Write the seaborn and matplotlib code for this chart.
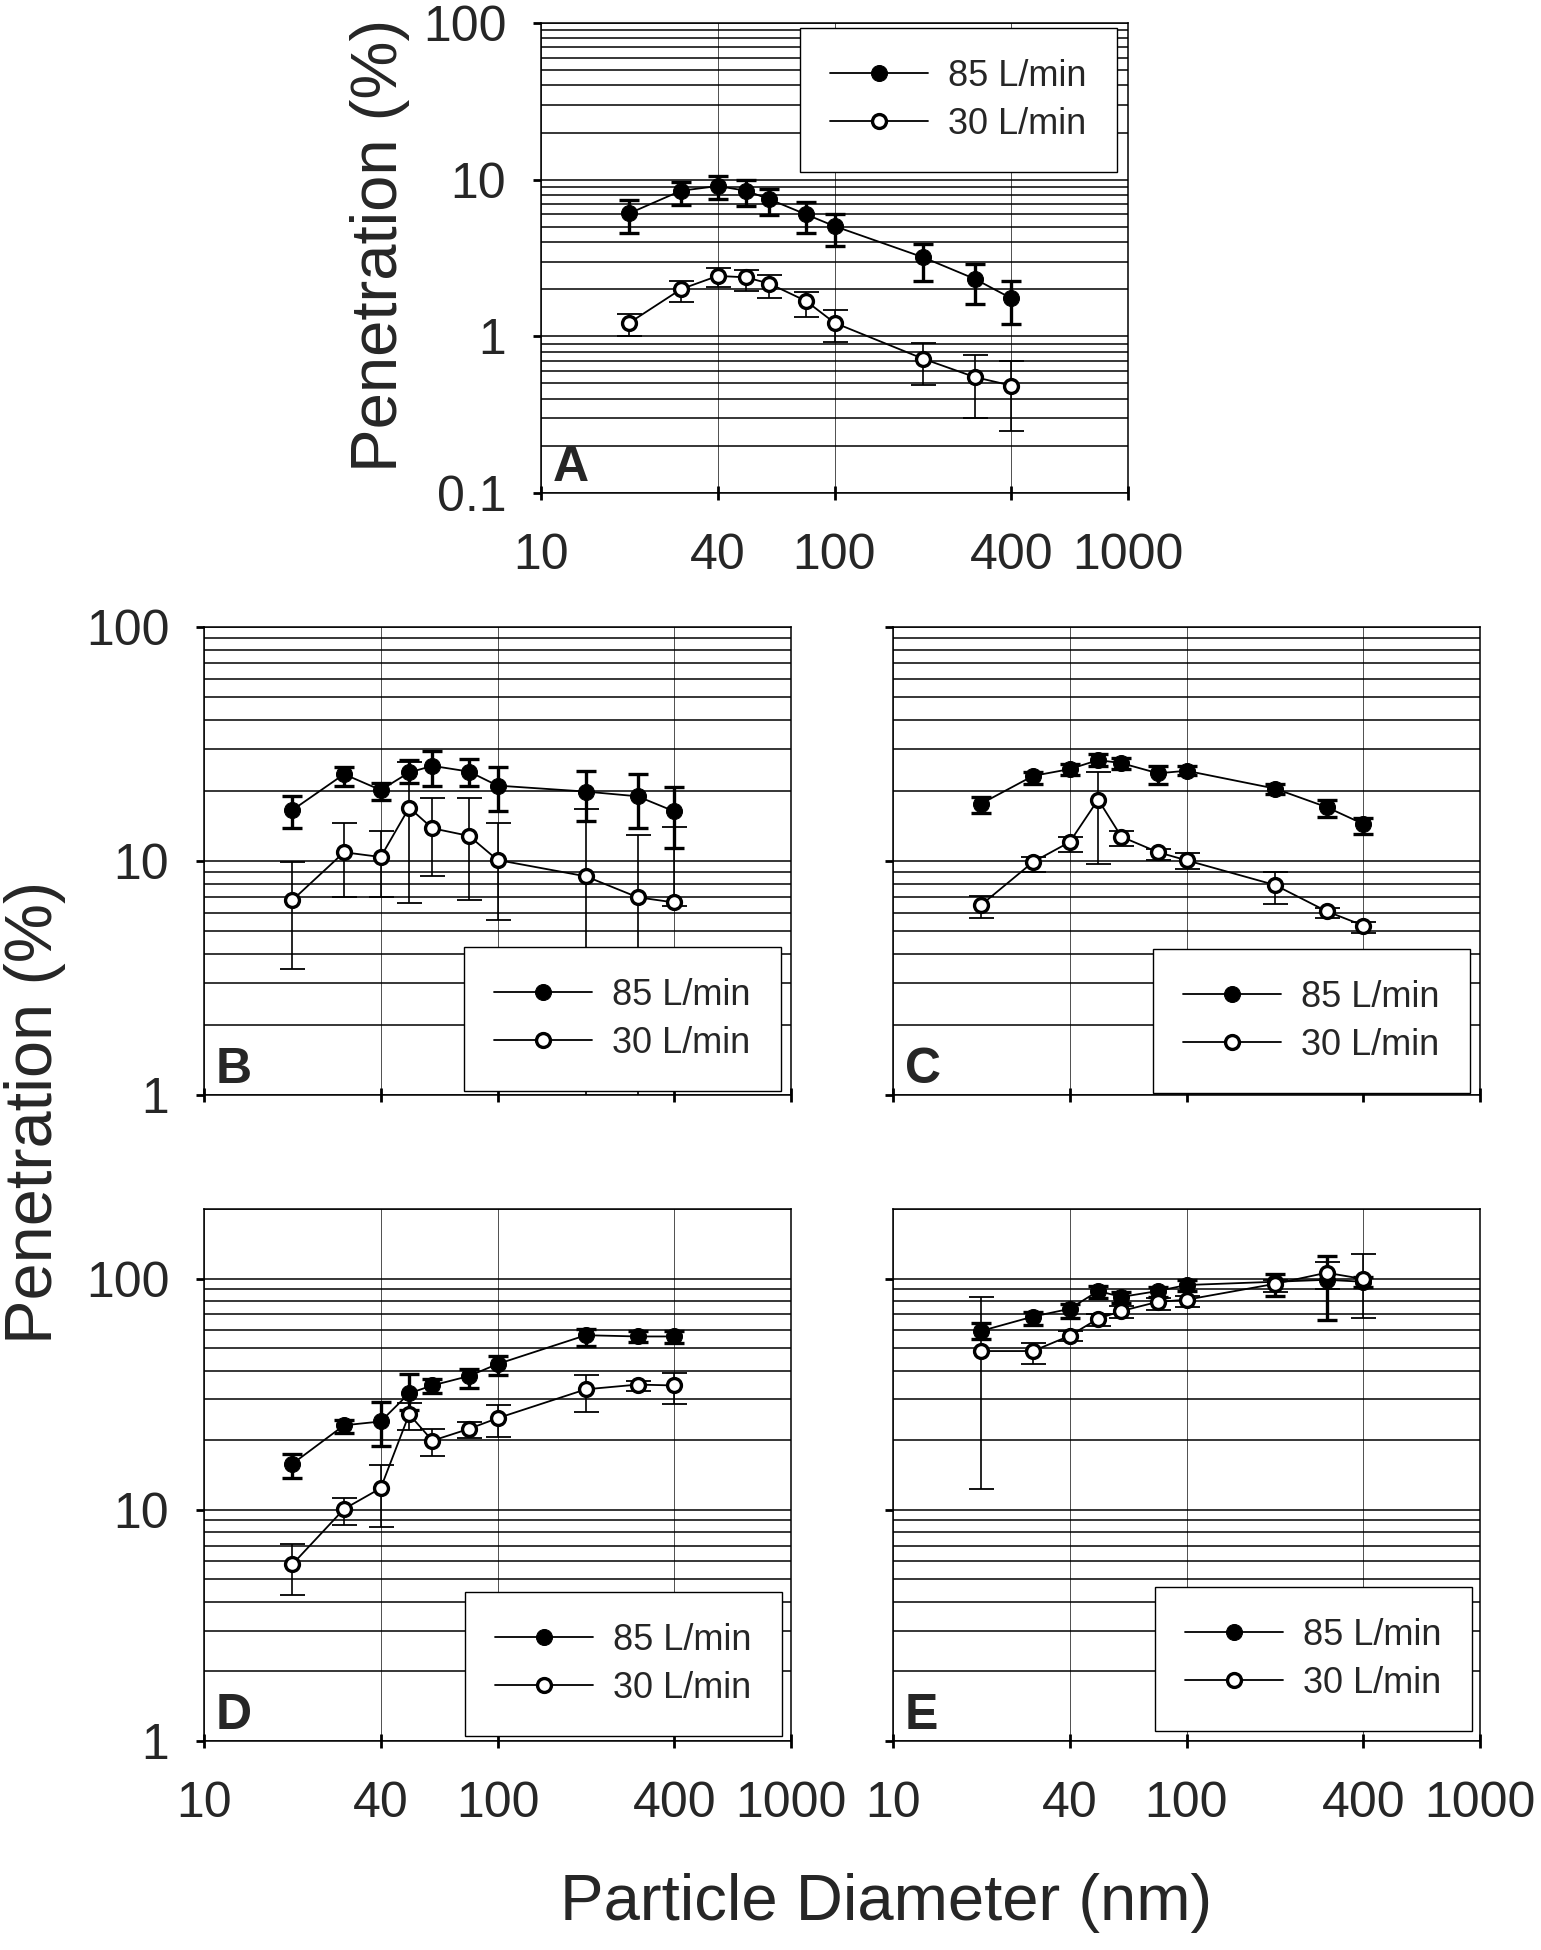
import matplotlib
matplotlib.use("Agg")
import numpy as np
import pandas as pd
import matplotlib.pyplot as plt
import seaborn as sns

# particle diameters (nm), same for every panel
diameters = [20, 30, 40, 50, 60, 80, 100, 200, 300, 400]

# Panel A
a85 = [6.1, 8.5, 9.1, 8.5, 7.5, 6.0, 5.05, 3.2, 2.33, 1.75]
a85_hi = [7.45, 9.7, 10.6, 9.9, 8.7, 7.2, 6.0, 3.9, 2.9, 2.25]
a85_lo = [4.55, 6.85, 7.5, 6.75, 5.95, 4.6, 3.8, 2.27, 1.62, 1.19]
a30 = [1.22, 2.0, 2.43, 2.38, 2.17, 1.68, 1.22, 0.72, 0.55, 0.485]
a30_hi = [1.38, 2.24, 2.74, 2.64, 2.45, 1.93, 1.47, 0.91, 0.76, 0.70]
a30_lo = [1.0, 1.66, 2.07, 1.96, 1.75, 1.32, 0.92, 0.49, 0.30, 0.25]

# Panel B
b85 = [16.5, 23.5, 20.1, 23.9, 25.5, 24.1, 21.0, 19.8, 18.9, 16.3]
b85_hi = [18.9, 25.3, 21.6, 27.1, 29.6, 27.3, 25.3, 24.3, 23.5, 20.7]
b85_lo = [13.8, 21.0, 18.3, 21.5, 21.0, 21.0, 16.3, 14.8, 13.8, 11.4]
b30 = [6.8, 10.9, 10.4, 16.9, 13.8, 12.8, 10.1, 8.6, 7.0, 6.65]
b30_hi = [9.9, 14.5, 13.4, 26.5, 18.5, 18.5, 14.5, 16.6, 12.9, 14.0]
b30_lo = [3.45, 7.05, 7.0, 6.6, 8.6, 6.8, 5.6, 0.9, 0.9, 6.4]

# Panel C
c85 = [17.6, 23.1, 24.7, 27.0, 26.2, 23.7, 24.3, 20.4, 17.0, 14.4]
c85_hi = [18.8, 24.1, 26.0, 28.7, 27.6, 25.4, 25.4, 21.4, 18.2, 15.2]
c85_lo = [16.1, 21.4, 23.3, 25.5, 24.7, 21.3, 23.3, 19.4, 15.4, 13.1]
c30 = [6.5, 9.9, 12.05, 18.3, 12.7, 10.9, 10.07, 7.9, 6.1, 5.3]
c30_hi = [7.1, 10.4, 12.7, 23.9, 13.4, 11.3, 10.8, 8.96, 6.3, 5.48]
c30_lo = [5.72, 8.96, 10.9, 9.67, 11.6, 10.1, 9.26, 6.58, 5.72, 4.92]

# Panel D
d85 = [15.8, 23.2, 24.1, 31.9, 34.5, 37.9, 42.7, 56.9, 56.2, 56.2]
d85_hi = [17.5, 24.4, 29.2, 38.8, 36.9, 40.7, 46.2, 60.8, 59.2, 59.6]
d85_lo = [13.7, 21.5, 18.9, 26.9, 31.9, 33.8, 38.1, 50.9, 53.2, 52.8]
d30 = [5.81, 10.08, 12.4, 25.9, 19.9, 22.4, 24.9, 33.2, 34.8, 34.5]
d30_hi = [7.13, 11.2, 15.7, 28.9, 22.3, 23.9, 28.4, 38.4, 36.1, 39.2]
d30_lo = [4.3, 8.6, 8.45, 22.1, 17.1, 20.5, 20.6, 26.6, 32.5, 28.8]

# Panel E
e85 = [59.4, 68.5, 74.0, 88.4, 83.3, 88.4, 93.8, 96.9, 98.8, 96.9]
e85_hi = [64.0, 71.9, 77.8, 93.1, 87.7, 92.3, 98.8, 104.9, 125.5, 101.6]
e85_lo = [55.0, 63.3, 67.8, 82.6, 78.8, 83.6, 88.4, 84.3, 65.9, 92.0]
e30 = [48.6, 48.6, 56.6, 67.1, 72.4, 79.4, 81.0, 94.9, 106.0, 99.6]
e30_hi = [83.6, 52.9, 59.4, 70.4, 76.3, 82.6, 84.3, 98.8, 118.2, 128.0]
e30_lo = [12.3, 42.6, 53.8, 62.5, 67.8, 73.3, 75.4, 87.7, 90.6, 67.8]

x_ticks = [10, 40, 100, 400, 1000]
x_ticklabels = ["10", "40", "100", "400", "1000"]

W, H = 1541, 1950

sns.set_style("white")
plt.rcParams['font.family'] = ['Liberation Sans', 'DejaVu Sans']

fig = plt.figure(figsize=(W / 100, H / 100), dpi=100)


def add_panel(left, right, top, bottom):
    return fig.add_axes([left / W, 1 - bottom / H, (right - left) / W, (bottom - top) / H])


def draw_panel(ax, letter, ylim, s85, lo85, hi85, s30, lo30, hi30,
               leg_corner, ylabels=True, xlabels=True):
    s85, lo85, hi85 = np.array(s85), np.array(lo85), np.array(hi85)
    s30, lo30, hi30 = np.array(s30), np.array(lo30), np.array(hi30)

    ax.set_xscale('log')
    ax.set_yscale('log')

    # error bars first so the markers sit on top
    ax.errorbar(diameters, s85, yerr=[s85 - lo85, hi85 - s85], fmt='none',
                ecolor='black', elinewidth=2.4, capsize=7.5, capthick=2.4, zorder=3)
    ax.errorbar(diameters, s30, yerr=[s30 - lo30, hi30 - s30], fmt='none',
                ecolor='black', elinewidth=1.2, capsize=9, capthick=1.3, zorder=3)

    df85 = pd.DataFrame({'d': diameters, 'p': s85})
    df30 = pd.DataFrame({'d': diameters, 'p': s30})
    sns.lineplot(data=df85, x='d', y='p', ax=ax, color='black', lw=1.3,
                 marker='o', ms=11.5, mfc='black', mec='black', label='85 L/min', zorder=4)
    sns.lineplot(data=df30, x='d', y='p', ax=ax, color='black', lw=1.3,
                 marker='o', ms=10, mfc='white', mec='black', mew=2.4,
                 label='30 L/min', zorder=5)

    ax.set_xlim(10, 1000)
    ax.set_ylim(*ylim)
    ax.set_xlabel('')
    ax.set_ylabel('')

    # ticks
    ax.set_xticks(x_ticks)
    ax.set_xticks([], minor=True)
    ax.set_xticklabels(x_ticklabels if xlabels else [''] * len(x_ticks))
    lo_dec = int(np.floor(np.log10(ylim[0])))
    hi_dec = int(np.ceil(np.log10(ylim[1])))
    majors = [10.0 ** k for k in range(lo_dec, hi_dec + 1) if ylim[0] <= 10.0 ** k <= ylim[1]]
    minors = [m * 10.0 ** k for k in range(lo_dec, hi_dec) for m in range(2, 10)
              if ylim[0] < m * 10.0 ** k <= ylim[1]]
    ax.set_yticks(majors)
    ax.set_yticks(minors, minor=True)
    ax.set_yticklabels([('%g' % v) for v in majors] if ylabels else [''] * len(majors))
    ax.set_yticklabels([''] * len(minors), minor=True)

    ax.tick_params(axis='x', which='major', direction='inout', length=10, width=2,
                   labelsize=36, pad=24, bottom=True, color='black')
    ax.tick_params(axis='y', which='major', direction='out', length=6, width=2,
                   labelsize=36, pad=19, left=True, color='black')
    ax.tick_params(which='minor', length=0)

    # grid: dense horizontal lines, sparse thin vertical lines
    ax.grid(True, which='both', axis='y', color='black', lw=1.1)
    ax.grid(True, which='major', axis='x', color='#333333', lw=0.6)
    ax.set_axisbelow(True)
    for sp in ax.spines.values():
        sp.set_color('black')
        sp.set_linewidth(1.1)

    # panel letter
    bbox = ax.get_position()
    wpx, hpx = bbox.width * W, bbox.height * H
    ax.text(12 / wpx, 12 / hpx, letter, transform=ax.transAxes, fontsize=36,
            fontweight='bold', ha='left', va='baseline', zorder=6)

    leg = ax.legend(loc='upper right', bbox_to_anchor=(leg_corner[0] / W, 1 - leg_corner[1] / H),
                    bbox_transform=fig.transFigure, borderaxespad=0, fontsize=26,
                    frameon=True, fancybox=False, shadow=False, framealpha=1,
                    edgecolor='black', borderpad=0.85, labelspacing=0.36,
                    handlelength=2.7, handletextpad=0.55)
    leg.get_frame().set_linewidth(1.0)
    leg.set_zorder(10)


axA = add_panel(541, 1128, 23, 493)
draw_panel(axA, 'A', (0.1, 100), a85, a85_lo, a85_hi, a30, a30_lo, a30_hi, (1117, 28))

axB = add_panel(204, 791, 627, 1095)
draw_panel(axB, 'B', (1, 100), b85, b85_lo, b85_hi, b30, b30_lo, b30_hi, (781, 947),
           xlabels=False)

axC = add_panel(893, 1480, 627, 1095)
draw_panel(axC, 'C', (1, 100), c85, c85_lo, c85_hi, c30, c30_lo, c30_hi, (1470, 949),
           ylabels=False, xlabels=False)

axD = add_panel(204, 791, 1209, 1741)
draw_panel(axD, 'D', (1, 200), d85, d85_lo, d85_hi, d30, d30_lo, d30_hi, (782, 1592))

axE = add_panel(893, 1480, 1209, 1741)
draw_panel(axE, 'E', (1, 200), e85, e85_lo, e85_hi, e30, e30_lo, e30_hi, (1472, 1587),
           ylabels=False)

# shared axis titles
fig.text(380 / W, 1 - 245 / H, 'Penetration (%)', rotation=90, fontsize=47,
         ha='center', va='center')
fig.text(35 / W, 1 - 1112 / H, 'Penetration (%)', rotation=90, fontsize=48,
         ha='center', va='center')
fig.text(886 / W, 1 - 1903 / H, 'Particle Diameter (nm)', fontsize=47,
         ha='center', va='center')

fig.savefig('out.png', dpi=100, facecolor='white')
